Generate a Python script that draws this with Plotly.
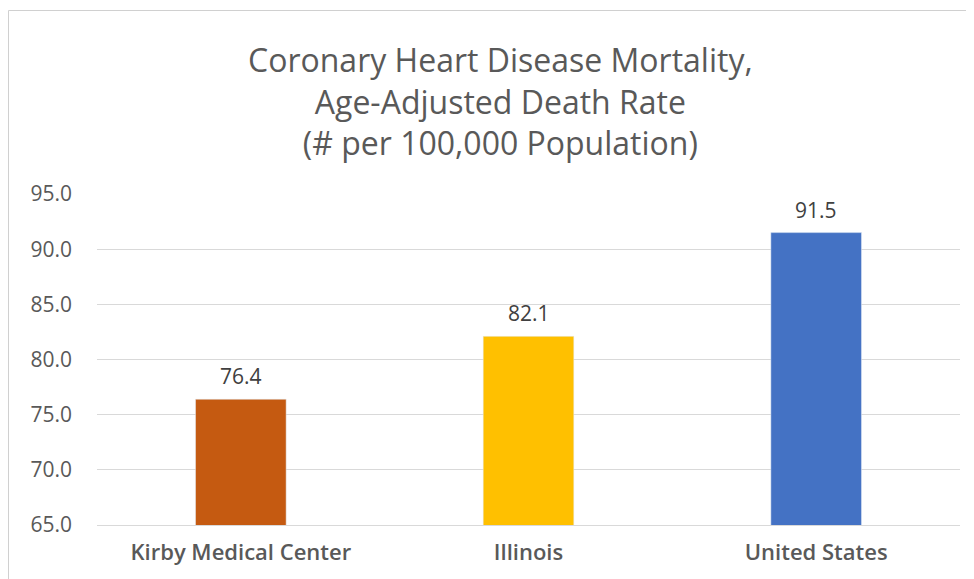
import plotly.graph_objects as go

categories = ["Kirby Medical Center", "Illinois", "United States"]
values = [76.4, 82.1, 91.5]
colors = ["#C55A11", "#FFC000", "#4472C4"]
tick_vals = [65, 70, 75, 80, 85, 90, 95]
tick_text = ["65.0", "70.0", "75.0", "80.0", "85.0", "90.0", "95.0"]
title_text = "Coronary Heart Disease Mortality,<br>Age-Adjusted Death Rate<br>(# per 100,000 Population)"

# page is rendered with an 8px body margin, so work in figure coords = page - 8
OFF = 8
W, H = 966, 571
ml, mr, mt, mb = 97 - OFF, 14, 194 - OFF, 54
pw, ph = W - ml - mr, H - mt - mb

def px_x(px):
    return (px - OFF - ml) / pw

def px_y(py):
    return (H - mb - (py - OFF)) / ph

FONT = "Open Sans"

fig = go.Figure(go.Bar(
    x=categories, y=values, marker_color=colors, width=0.315,
))

for c, v in zip(categories, values):
    fig.add_annotation(x=c, y=v, text=f"{v:.1f}", showarrow=False,
                       yanchor="middle", yshift=23,
                       font=dict(family=FONT, size=21, color="#404040"))

fig.update_layout(
    width=W, height=H, margin=dict(l=ml, r=mr, t=mt, b=mb),
    paper_bgcolor="white", plot_bgcolor="white", showlegend=False,
    font=dict(family=FONT, color="#595959"),
)
fig.update_yaxes(range=[65, 95], tickvals=tick_vals, ticktext=tick_text,
                 showgrid=True, gridcolor="#d9d9d9", gridwidth=1,
                 zeroline=False, showline=False,
                 tickfont=dict(family=FONT, size=21, color="#595959"),
                 ticklabelstandoff=24)
fig.update_xaxes(showline=True, linecolor="#d9d9d9", linewidth=1,
                 tickfont=dict(family=FONT, size=22, color="#595959", weight=600),
                 ticklabelstandoff=8)

fig.add_annotation(text=title_text, xref="paper", yref="paper",
                   x=px_x(500), y=px_y(101), xanchor="center", yanchor="middle",
                   showarrow=False, align="center",
                   font=dict(family=FONT, size=32, color="#595959"))

fig.add_shape(type="rect", xref="paper", yref="paper",
              x0=px_x(8.5), x1=px_x(1000), y0=px_y(10.5), y1=px_y(620),
              line=dict(color="#d0d0d0", width=1), fillcolor="rgba(0,0,0,0)",
              layer="below")

fig.write_html("out.html")
